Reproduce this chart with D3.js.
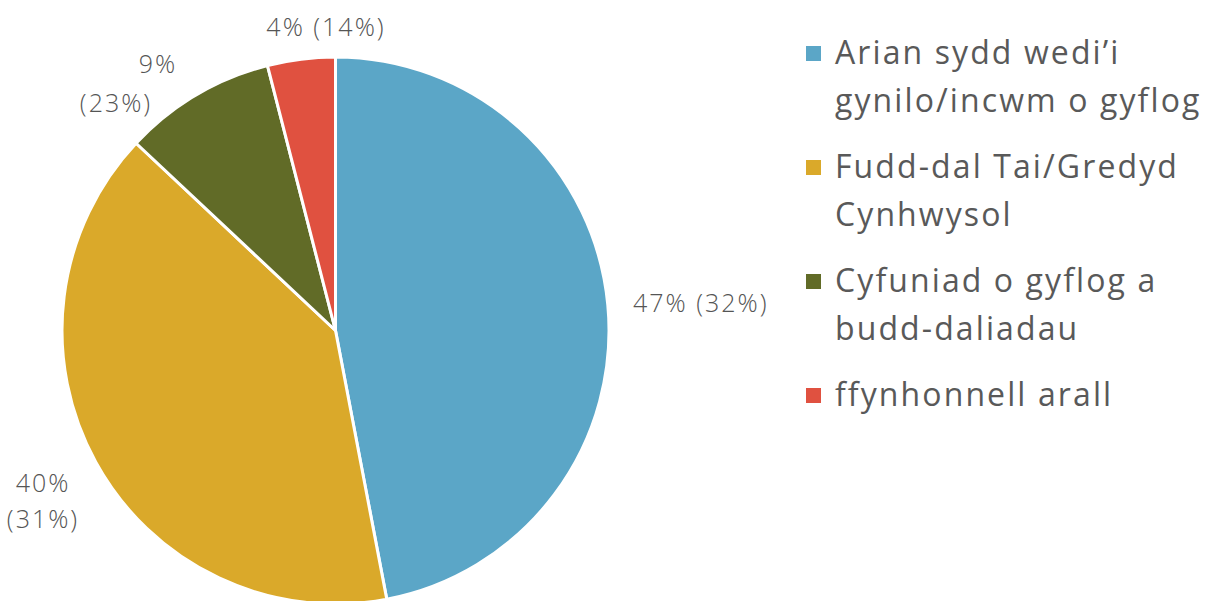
<!DOCTYPE html>
<html><head><meta charset="utf-8">
<script src="https://cdn.jsdelivr.net/npm/d3@7"></script>
<style>
html,body{margin:0;padding:0;background:#fff;}
svg{display:block;}
</style></head>
<body>
<svg id="chart" width="1218" height="601"></svg>
<script>
// Data
const categories = ["Arian sydd wedi\u2019i gynilo/incwm o gyflog", "Fudd-dal Tai/Gredyd Cynhwysol", "Cyfuniad o gyflog a budd-daliadau", "ffynhonnell arall"];
const values = [47, 40, 9, 4];
const comparison = [32, 31, 23, 14];
const legendLines = [["Arian sydd wedi\u2019i", "gynilo/incwm o gyflog"], ["Fudd-dal Tai/Gredyd", "Cynhwysol"], ["Cyfuniad o gyflog a", "budd-daliadau"], ["ffynhonnell arall"]];
const colors = ["#5BA6C7", "#DAA92A", "#616B27", "#E05140"];

// Layout
const W = 1218, H = 601;
const cx = 335.5, cy = 330.5, R = 273.5;
const svg = d3.select("#chart");
const color = d3.scaleOrdinal().domain(categories).range(colors);

const pie = d3.pie().sort(null).value(d => d.v);
const data = categories.map((c, i) => ({c, v: values[i], p: comparison[i]}));
const arcs = pie(data);
const arc = d3.arc().innerRadius(0).outerRadius(R);

const g = svg.append("g").attr("transform", `translate(${cx},${cy})`);
g.selectAll("path").data(arcs).join("path")
  .attr("d", arc)
  .attr("fill", d => color(d.data.c))
  .attr("stroke", "#fff")
  .attr("stroke-width", 3)
  .attr("stroke-linejoin", "round");

// Data labels (manual placement, per slice, like the original)
const labelLayout = [
  {x: 633, y: 312, anchor: "start", lines: d => [`${d.v}% (${d.p}%)`]},
  {x: 43, y: 492, anchor: "middle", lines: d => [`${d.v}%`, `(${d.p}%)`], dy: 36},
  {x: 158, y: 73, anchor: "middle", lines: d => [`${d.v}%`], sub: {x: 116, y: 112, text: d => `(${d.p}%)`}},
  {x: 326, y: 36, anchor: "middle", lines: d => [`${d.v}% (${d.p}%)`]}
];
const labelFont = "'Open Sans', 'Lato', sans-serif";
function styleLabel(t) {
  return t.attr("font-family", labelFont)
    .attr("font-weight", 300)
    .attr("font-size", 25)
    .attr("letter-spacing", 2)
    .attr("fill", "#555");
}
arcs.forEach((a, i) => {
  const L = labelLayout[i];
  const t = styleLabel(svg.append("text")
    .attr("x", L.x).attr("y", L.y)
    .attr("text-anchor", L.anchor));
  L.lines(a.data).forEach((s, k) => {
    t.append("tspan").attr("x", L.x).attr("dy", k === 0 ? 0 : (L.dy || 36)).text(s);
  });
  if (L.sub) {
    styleLabel(svg.append("text").attr("x", L.sub.x).attr("y", L.sub.y)
      .attr("text-anchor", "middle"))
      .text(L.sub.text(a.data));
  }
});

// Legend
const legendX = 806, legendTextX = 835;
const firstBaseline = 64, lineH = 48, itemGap = 66;
let yb = firstBaseline;
const lg = svg.append("g");
categories.forEach((c, i) => {
  lg.append("rect")
    .attr("x", legendX).attr("y", yb - 18)
    .attr("width", 15).attr("height", 15)
    .attr("fill", color(c));
  const t = lg.append("text")
    .attr("x", legendTextX).attr("y", yb)
    .attr("font-family", "'Open Sans', 'Noto Sans', sans-serif")
    .attr("font-size", 32)
    .attr("letter-spacing", 2.1)
    .attr("fill", "#595959");
  legendLines[i].forEach((s, k) => {
    t.append("tspan").attr("x", legendTextX).attr("dy", k === 0 ? 0 : lineH).text(s);
  });
  yb += (legendLines[i].length - 1) * lineH + itemGap;
});
</script>
</body></html>
